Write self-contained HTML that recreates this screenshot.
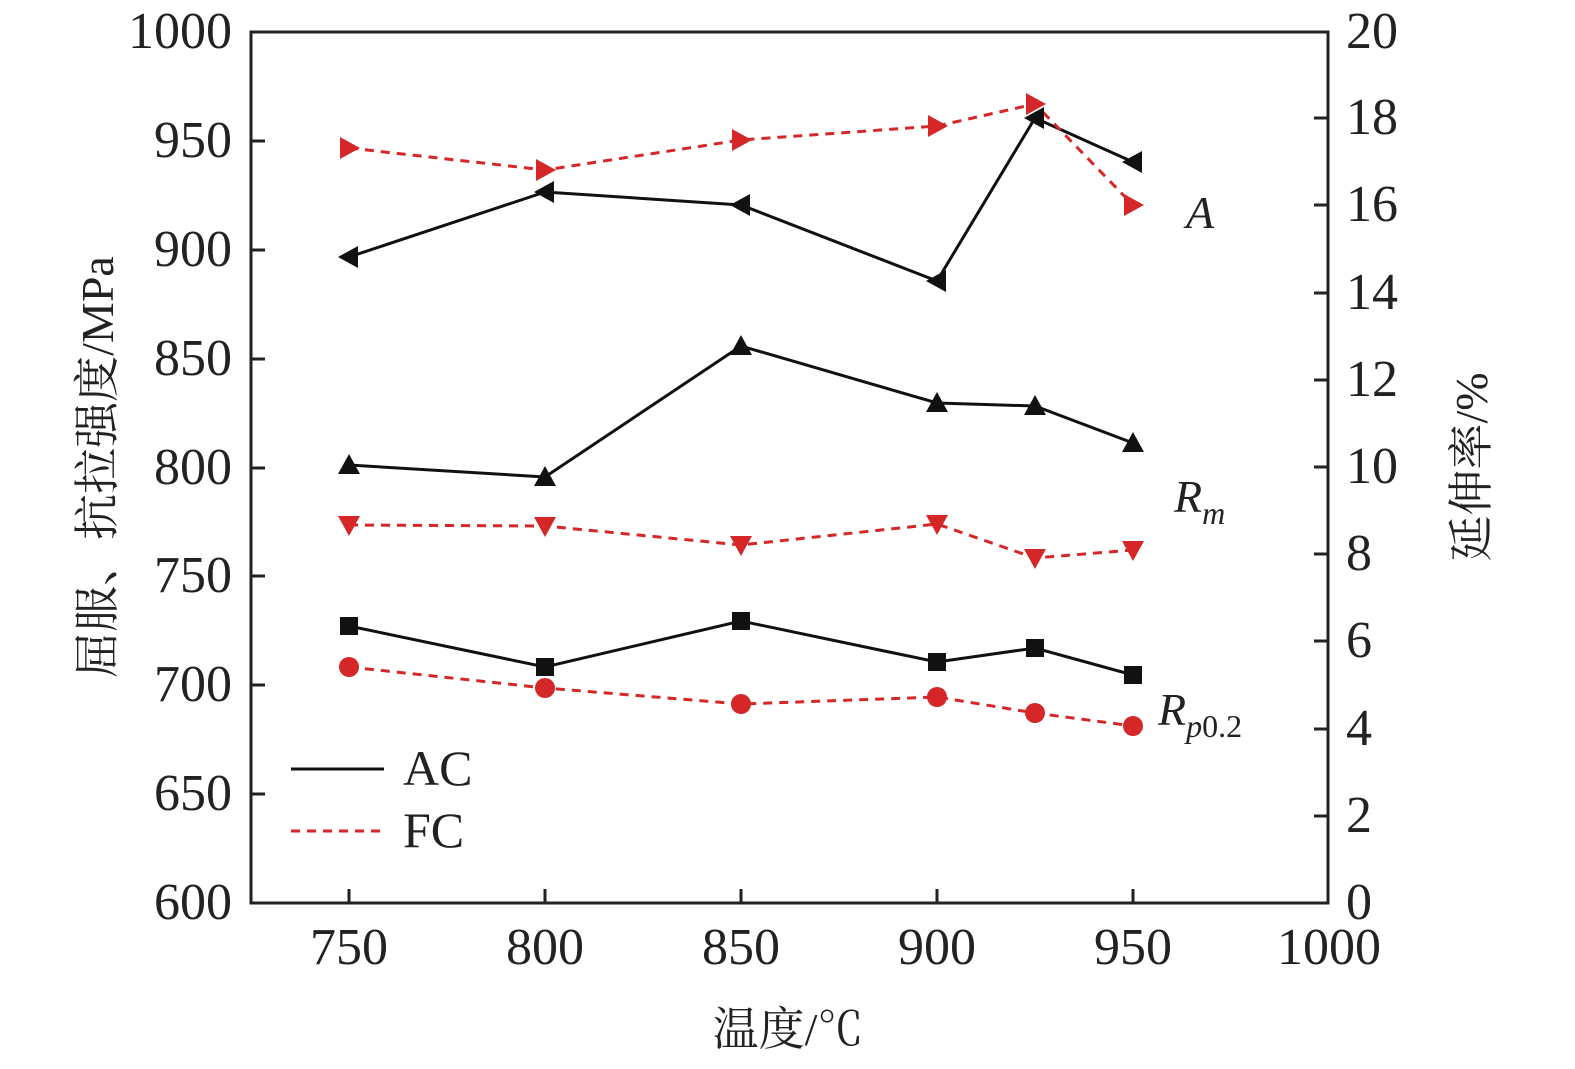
<!DOCTYPE html>
<html><head><meta charset="utf-8"><style>body{margin:0;background:#fff}svg{display:block}</style></head><body>
<svg width="1575" height="1069" xmlns="http://www.w3.org/2000/svg" font-family="'Liberation Serif','Noto Serif CJK SC',serif">
<defs>
<path id="tl" d="M-11,0 L9,-11 L9,11 Z" fill="#111"/>
<path id="tr" d="M11,0 L-9,-11 L-9,11 Z" fill="#d62728"/>
<path id="tu" d="M0,-11 L11,9 L-11,9 Z" fill="#111"/>
<path id="td" d="M0,11 L11,-9 L-11,-9 Z" fill="#d62728"/>
<rect id="sq" x="-9" y="-9" width="18" height="18" fill="#111"/>
<circle id="ci" r="10" fill="#d62728"/>
</defs>
<rect x="251" y="32" width="1077" height="871" fill="none" stroke="#222" stroke-width="3"/>
<g stroke="#222" stroke-width="3">
<line x1="349" y1="903" x2="349" y2="889"/><line x1="545" y1="903" x2="545" y2="889"/><line x1="741" y1="903" x2="741" y2="889"/><line x1="937" y1="903" x2="937" y2="889"/><line x1="1133" y1="903" x2="1133" y2="889"/>
<line x1="251" y1="141" x2="265" y2="141"/><line x1="251" y1="250" x2="265" y2="250"/><line x1="251" y1="359" x2="265" y2="359"/><line x1="251" y1="468" x2="265" y2="468"/><line x1="251" y1="576" x2="265" y2="576"/><line x1="251" y1="685" x2="265" y2="685"/><line x1="251" y1="794" x2="265" y2="794"/>
<line x1="1328" y1="118" x2="1314" y2="118"/><line x1="1328" y1="205" x2="1314" y2="205"/><line x1="1328" y1="293" x2="1314" y2="293"/><line x1="1328" y1="380" x2="1314" y2="380"/><line x1="1328" y1="467" x2="1314" y2="467"/><line x1="1328" y1="554" x2="1314" y2="554"/><line x1="1328" y1="641" x2="1314" y2="641"/><line x1="1328" y1="729" x2="1314" y2="729"/><line x1="1328" y1="816" x2="1314" y2="816"/>
</g>
<g font-size="52" fill="#222" text-anchor="end">
<text x="232" y="48">1000</text><text x="232" y="157">950</text><text x="232" y="266">900</text><text x="232" y="375">850</text><text x="232" y="484">800</text><text x="232" y="592">750</text><text x="232" y="701">700</text><text x="232" y="810">650</text><text x="232" y="919">600</text>
</g>
<g font-size="52" fill="#222" text-anchor="start">
<text x="1346" y="48">20</text><text x="1346" y="134">18</text><text x="1346" y="221">16</text><text x="1346" y="309">14</text><text x="1346" y="396">12</text><text x="1346" y="483">10</text><text x="1346" y="570">8</text><text x="1346" y="657">6</text><text x="1346" y="745">4</text><text x="1346" y="832">2</text><text x="1346" y="919">0</text>
</g>
<g font-size="52" fill="#222" text-anchor="middle">
<text x="349" y="964">750</text><text x="545" y="964">800</text><text x="741" y="964">850</text><text x="937" y="964">900</text><text x="1133" y="964">950</text><text x="1329" y="964">1000</text>
</g>
<text x="788" y="1045" font-size="46" fill="#222" text-anchor="middle">温度/℃</text>
<text transform="translate(113,467) rotate(-90)" font-size="46" fill="#222" text-anchor="middle">屈服、抗拉强度/MPa</text>
<text transform="translate(1487,467) rotate(-90)" font-size="46" fill="#222" text-anchor="middle">延伸率/%</text>
<g fill="none" stroke-width="3">
<polyline stroke="#111" points="349,257 545,192 741,205 937,281 1035,118 1133,162"/>
<polyline stroke="#d62728" stroke-dasharray="9,7" points="349,148 545,170 741,140 937,126 1035,104 1133,205"/>
<polyline stroke="#111" points="349,465 545,477 741,346 937,403 1035,406 1133,443"/>
<polyline stroke="#d62728" stroke-dasharray="9,7" points="349,525 545,526 741,545 937,524 1035,558 1133,550"/>
<polyline stroke="#111" points="349,626 545,667 741,621 937,662 1035,648 1133,675"/>
<polyline stroke="#d62728" stroke-dasharray="9,7" points="349,667 545,688 741,704 937,697 1035,713 1133,726"/>
</g>
<use href="#tl" x="349" y="257"/><use href="#tl" x="545" y="192"/><use href="#tl" x="741" y="205"/><use href="#tl" x="937" y="281"/><use href="#tl" x="1035" y="118"/><use href="#tl" x="1133" y="162"/>
<use href="#tr" x="349" y="148"/><use href="#tr" x="545" y="170"/><use href="#tr" x="741" y="140"/><use href="#tr" x="937" y="126"/><use href="#tr" x="1035" y="104"/><use href="#tr" x="1133" y="205"/>
<use href="#tu" x="349" y="465"/><use href="#tu" x="545" y="477"/><use href="#tu" x="741" y="346"/><use href="#tu" x="937" y="403"/><use href="#tu" x="1035" y="406"/><use href="#tu" x="1133" y="443"/>
<use href="#td" x="349" y="525"/><use href="#td" x="545" y="526"/><use href="#td" x="741" y="545"/><use href="#td" x="937" y="524"/><use href="#td" x="1035" y="558"/><use href="#td" x="1133" y="550"/>
<use href="#sq" x="349" y="626"/><use href="#sq" x="545" y="667"/><use href="#sq" x="741" y="621"/><use href="#sq" x="937" y="662"/><use href="#sq" x="1035" y="648"/><use href="#sq" x="1133" y="675"/>
<use href="#ci" x="349" y="667"/><use href="#ci" x="545" y="688"/><use href="#ci" x="741" y="704"/><use href="#ci" x="937" y="697"/><use href="#ci" x="1035" y="713"/><use href="#ci" x="1133" y="726"/>
<g font-size="46" font-style="italic" fill="#222">
<text x="1186" y="228">A</text>
<text x="1174" y="512">R<tspan font-size="32" dy="12">m</tspan></text>
<text x="1158" y="725">R<tspan font-size="32" dy="12">p</tspan><tspan font-style="normal" font-size="32">0.2</tspan></text>
</g>
<line x1="291" y1="769" x2="384" y2="769" stroke="#111" stroke-width="3"/>
<line x1="291" y1="831" x2="384" y2="831" stroke="#d62728" stroke-width="3" stroke-dasharray="9,7"/>
<g font-size="50" fill="#222"><text x="403" y="785">AC</text><text x="403" y="847">FC</text></g>
</svg>
</body></html>
